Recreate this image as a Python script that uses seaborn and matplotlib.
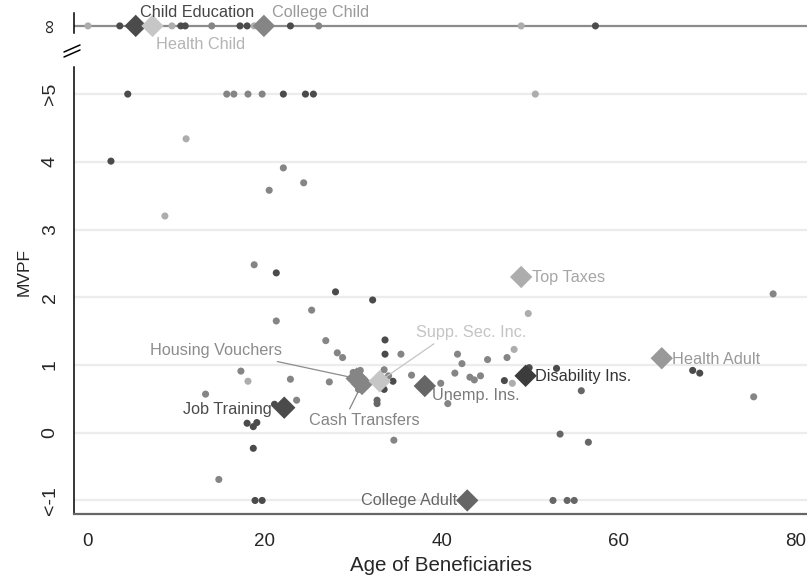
import numpy as np
import pandas as pd
import matplotlib
matplotlib.use("Agg")
import matplotlib.pyplot as plt
import seaborn as sns
from matplotlib.lines import Line2D

# ---------------- data ----------------
# programs with infinite MVPF (top strip)
inf_age = [0.0, 3.6, 9.5, 10.5, 11.0, 14.0, 17.2, 18.0, 18.8, 22.9, 26.1, 49.0, 57.4]
inf_shade = ['l', 'd', 'l', 'd', 'd', 'm', 'd', 'd', 'l', 'd', 'm', 'l', 'd']

# individual programs (MVPF > 5 shown at 5, < -1 shown at -1)
pt_age = [4.5, 15.7, 16.5, 18.1, 19.7, 22.1, 24.6, 25.5, 50.6,
          2.6, 11.1, 22.1, 20.5, 24.4, 8.7, 18.8, 21.3, 28.0, 25.3, 21.3,
          26.9, 28.2, 28.8, 30.0, 30.8, 17.3, 18.1, 22.9, 27.3, 13.3,
          23.6, 21.1, 18.0, 18.7, 19.1, 18.7, 14.8, 18.9, 19.7, 34.6,
          53.4, 56.6, 52.6, 54.2, 55.0, 77.5, 32.2, 49.8, 33.6, 33.6,
          35.4, 41.8, 42.3, 45.2, 47.4, 48.2, 68.4, 69.2, 75.3, 53.0,
          55.8, 49.9, 47.1, 48.0, 41.5, 43.2, 43.7, 44.4, 39.9, 40.7,
          36.6, 33.5, 34.0, 34.5, 33.5, 32.7, 32.7, 30.6]
pt_mvpf = [5, 5, 5, 5, 5, 5, 5, 5, 5,
           4.01, 4.34, 3.91, 3.58, 3.69, 3.20, 2.48, 2.36, 2.08, 1.81, 1.65,
           1.36, 1.18, 1.11, 0.89, 0.92, 0.91, 0.76, 0.79, 0.75, 0.57,
           0.48, 0.42, 0.14, 0.09, 0.15, -0.23, -0.69, -1, -1, -0.11,
           -0.02, -0.14, -1, -1, -1, 2.05, 1.96, 1.76, 1.37, 1.16,
           1.16, 1.16, 1.02, 1.08, 1.11, 1.23, 0.92, 0.88, 0.53, 0.95,
           0.62, 0.96, 0.77, 0.73, 0.88, 0.82, 0.78, 0.84, 0.73, 0.43,
           0.85, 0.93, 0.84, 0.76, 0.64, 0.48, 0.43, 0.64]
pt_shade = ['d', 'm', 'm', 'm', 'm', 'd', 'd', 'd', 'l',
            'd', 'l', 'm', 'm', 'm', 'l', 'm', 'd', 'd', 'm', 'm',
            'm', 'm', 'm', 'm', 'm', 'm', 'l', 'm', 'm', 'm',
            'm', 'd', 'd', 'd', 'd', 'd', 'm', 'd', 'd', 'm',
            'md', 'md', 'md', 'md', 'md', 'm', 'd', 'l', 'd', 'd',
            'm', 'm', 'm', 'm', 'm', 'l', 'd', 'd', 'm', 'd',
            'md', 'd', 'd', 'l', 'm', 'm', 'm', 'm', 'm', 'm',
            'm', 'm', 'm', 'd', 'd', 'md', 'md', 'm']

# category averages (diamonds)
cat_name = ['Child Education', 'Health Child', 'College Child', 'Top Taxes',
            'Health Adult', 'Disability Ins.', 'Unemp. Ins.', 'Job Training',
            'College Adult', 'Housing Vouchers', 'Cash Transfers', 'Supp. Sec. Inc.']
cat_age = [5.4, 7.3, 19.9, 49.0, 64.9, 49.5, 38.1, 22.2, 42.9, 30.4, 31.0, 33.0]
cat_mvpf = [np.inf, np.inf, np.inf, 2.30, 1.10, 0.84, 0.69, 0.37, -1.0, 0.80, 0.72, 0.76]
cat_shade = ['d', 'vl', 'm', 'l', 'ml', 'dd', 'md', 'd', 'md', 'm', 'm', 'vl']

ytick_vals = [-1, 0, 1, 2, 3, 4, 5]
ytick_labels = ['<-1', '0', '1', '2', '3', '4', '>5']
xtick_vals = [0, 20, 40, 60, 80]

# ---------------- styling ----------------
shade_col = {'dd': '#3c3c3c', 'd': '#4b4b4b', 'md': '#666666', 'm': '#858585',
             'ml': '#999999', 'l': '#adadad', 'vl': '#c6c6c6'}
label_col = {'Child Education': '#454545', 'Health Child': '#b4b4b4',
             'College Child': '#9a9a9a', 'Top Taxes': '#a6a6a6',
             'Health Adult': '#999999', 'Disability Ins.': '#333333',
             'Unemp. Ins.': '#7a7a7a', 'Job Training': '#4a4a4a',
             'College Adult': '#666666', 'Housing Vouchers': '#8c8c8c',
             'Cash Transfers': '#858585', 'Supp. Sec. Inc.': '#c4c4c4'}

sns.set_style("white")
plt.rcParams['font.family'] = ['Liberation Sans', 'DejaVu Sans']

LBL = 11.7

W, H = 807, 579
fig = plt.figure(figsize=(W / 100, H / 100), dpi=100)

L, R = 74, 807
ax = fig.add_axes([L / W, (H - 514) / H, (R - L) / W, (514 - 67) / H])
axt = fig.add_axes([L / W, (H - 33.5) / H, (R - L) / W, 20 / H])

XL = (-1.58, 81.33)

# ---------- main panel ----------
dots = pd.DataFrame({'age': pt_age, 'mvpf': pt_mvpf, 'shade': pt_shade})
cats = pd.DataFrame({'name': cat_name, 'age': cat_age, 'mvpf': cat_mvpf, 'shade': cat_shade})
fin = cats[np.isfinite(cats['mvpf'])]
inf_c = cats[~np.isfinite(cats['mvpf'])].assign(y=0.0)
infd = pd.DataFrame({'age': inf_age, 'shade': inf_shade, 'y': 0.0})

for v in ytick_vals:
    ax.axhline(v, color='#ececec', lw=1.6, zorder=0)

sns.scatterplot(data=dots, x='age', y='mvpf', hue='shade', palette=shade_col,
                s=26, linewidth=0, legend=False, ax=ax, zorder=3, clip_on=False)
sns.scatterplot(data=fin, x='age', y='mvpf', hue='shade', palette=shade_col,
                marker='D', s=130, linewidth=0, legend=False, ax=ax, zorder=5,
                clip_on=False)

ax.set_xlim(*XL)
ax.set_ylim(-1.20, 5.40)
ax.set_yticks(ytick_vals)
ax.set_yticklabels(ytick_labels, rotation=90, va='center')
ax.set_xticks(xtick_vals)
ax.tick_params(axis='y', length=7, width=1, color='black', labelsize=14, pad=4)
ax.tick_params(axis='x', length=7, width=1, color='#555555', labelsize=13.5, pad=7)
ax.set_xlabel('Age of Beneficiaries', fontsize=14.8, labelpad=4)
ax.set_ylabel('MVPF', fontsize=12.5)
ax.yaxis.set_label_coords(-0.0575, 0.541)
for s in ['top', 'right']:
    ax.spines[s].set_visible(False)
ax.spines['left'].set_color('black')
ax.spines['left'].set_linewidth(1.1)
ax.spines['bottom'].set_color('#666666')
ax.spines['bottom'].set_linewidth(1.6)

# label placement (offsets in points)
simple = {
    'Top Taxes': (7.5, -0.7, 'left'),
    'Health Adult': (7.2, -0.9, 'left'),
    'Disability Ins.': (6.8, -0.3, 'left'),
    'Unemp. Ins.': (5.0, -7.2, 'left'),
    'Job Training': (-9.0, -1.2, 'right'),
    'College Adult': (-7.5, 0.0, 'right'),
}
for _, r in fin.iterrows():
    if r['name'] in simple:
        dx, dy, ha = simple[r['name']]
        ax.annotate(r['name'], xy=(r['age'], r['mvpf']), xytext=(dx, dy),
                    textcoords='offset points', ha=ha, va='center',
                    fontsize=LBL, color=label_col[r['name']], zorder=6)

leader = {
    'Housing Vouchers': (-101.5, 20.2, (0.84, 0.0)),
    'Cash Transfers': (1.4, -26.6, (0.35, 1.0)),
    'Supp. Sec. Inc.': (65.5, 35.3, (0.22, 0.0)),
}
for _, r in fin.iterrows():
    if r['name'] in leader:
        dx, dy, rp = leader[r['name']]
        c = label_col[r['name']]
        ax.annotate(r['name'], xy=(r['age'], r['mvpf']), xytext=(dx, dy),
                    textcoords='offset points', ha='center', va='center',
                    fontsize=LBL, color=c, zorder=4,
                    arrowprops=dict(arrowstyle='-', color=c, lw=0.9,
                                    shrinkA=1, shrinkB=4, relpos=rp))

# ---------- top (infinite) strip ----------
axt.axhline(0, color='#8c8c8c', lw=1.6, zorder=0)
sns.scatterplot(data=infd, x='age', y='y', hue='shade', palette=shade_col,
                s=26, linewidth=0, legend=False, ax=axt, zorder=3, clip_on=False)
sns.scatterplot(data=inf_c, x='age', y='y', hue='shade', palette=shade_col,
                marker='D', s=130, linewidth=0, legend=False, ax=axt, zorder=5,
                clip_on=False)
axt.set_xlim(*XL)
axt.set_ylim(-0.38, 0.62)
axt.set_xticks([])
axt.set_yticks([0])
axt.set_yticklabels(['\u221e'], rotation=90, va='center')
axt.tick_params(axis='y', length=7, width=1, color='black', labelsize=14, pad=4)
axt.set_xlabel('')
axt.set_ylabel('')
for s in ['top', 'right', 'bottom']:
    axt.spines[s].set_visible(False)
axt.spines['left'].set_color('black')
axt.spines['left'].set_linewidth(1.1)

top_lab = {
    'Child Education': (3.0, 9.4),
    'College Child': (5.5, 9.4),
    'Health Child': (2.5, -13.4),
}
for _, r in inf_c.iterrows():
    dx, dy = top_lab[r['name']]
    axt.annotate(r['name'], xy=(r['age'], 0), xytext=(dx, dy),
                 textcoords='offset points', ha='left', va='center',
                 fontsize=LBL, color=label_col[r['name']], zorder=6,
                 annotation_clip=False)

# axis-break marks "//"
for off in (0, 5):
    fig.add_artist(Line2D([64 / W, 80 / W], [(H - 52 - off) / H, (H - 45 - off) / H],
                          color='black', lw=1.1))

fig.savefig('out.png', dpi=100)
